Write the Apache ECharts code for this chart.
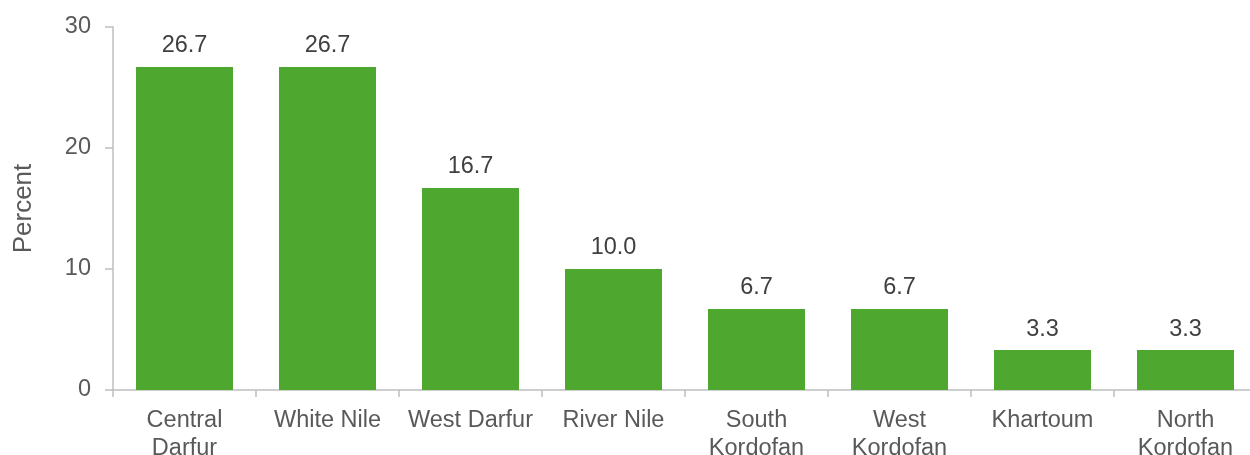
<!DOCTYPE html>
<html>
<head>
<meta charset="utf-8">
<script src="https://cdn.jsdelivr.net/npm/echarts@6/dist/echarts.min.js"></script>
<style>
  html, body { margin: 0; padding: 0; background: #fff; }
  #chart { width: 1250px; height: 455px; }
</style>
</head>
<body>
<div id="chart"></div>
<script>
const regions = ['Central\nDarfur', 'White Nile', 'West Darfur', 'River Nile', 'South\nKordofan', 'West\nKordofan', 'Khartoum', 'North\nKordofan'];
const percents = [26.7, 26.7, 16.7, 10.0, 6.7, 6.7, 3.3, 3.3];
const yTicks = [0, 10, 20, 30];

const chart = echarts.init(document.getElementById('chart'));
chart.setOption({
  animation: false,
  textStyle: { fontFamily: 'Liberation Sans, Arial, sans-serif' },
  grid: { left: 113, right: -7, top: 27, bottom: 65, outerBoundsMode: 'none', containLabel: false },
  xAxis: {
    type: 'category',
    data: regions,
    axisLine: { lineStyle: { color: '#bfbfbf', width: 1.5 } },
    axisTick: { show: true, length: 7, lineStyle: { color: '#bfbfbf', width: 1.5 } },
    axisLabel: { color: '#595959', fontSize: 23.5, lineHeight: 28, margin: 17, interval: 0 }
  },
  yAxis: {
    type: 'value',
    min: yTicks[0],
    max: yTicks[yTicks.length - 1],
    interval: 10,
    name: 'Percent',
    nameLocation: 'middle',
    nameGap: 76,
    nameRotate: 90,
    nameTextStyle: { color: '#595959', fontSize: 26 },
    axisLine: { show: true, lineStyle: { color: '#bfbfbf', width: 1.5 } },
    axisTick: { show: true, length: 8, inside: false, lineStyle: { color: '#bfbfbf', width: 1.5 } },
    axisLabel: { color: '#595959', fontSize: 23.5, margin: 22 },
    splitLine: { show: false }
  },
  series: [{
    type: 'bar',
    data: percents,
    barWidth: 97,
    itemStyle: { color: '#4ea72e' },
    label: {
      show: true,
      position: 'top',
      distance: 9,
      color: '#404040',
      fontSize: 23.5,
      formatter: p => p.value.toFixed(1)
    }
  }]
});
</script>
</body>
</html>
